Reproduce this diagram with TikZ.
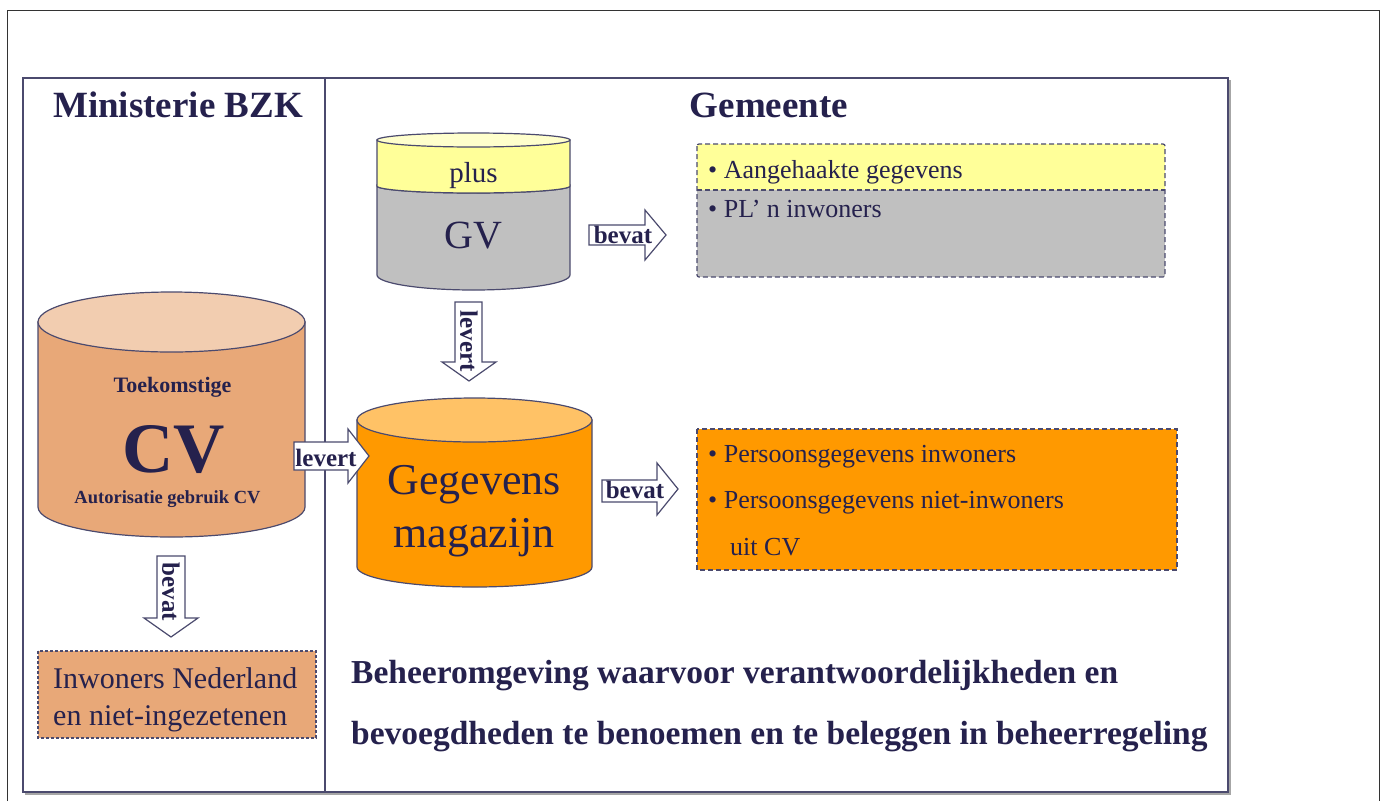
\documentclass[tikz,border=0pt]{standalone}
\usepackage{fontspec}
\setmainfont{Liberation Serif}
\definecolor{ink}{HTML}{25214D}
\definecolor{frame}{HTML}{4B4A6E}
\definecolor{peach}{HTML}{E8A878}
\definecolor{peachtop}{HTML}{F2CDB0}
\definecolor{orng}{HTML}{FF9900}
\definecolor{orngtop}{HTML}{FFC266}
\definecolor{yel}{HTML}{FFFF99}
\definecolor{yeltop}{HTML}{FFFFCC}
\definecolor{gry}{HTML}{C0C0C0}
\begin{document}
\begin{tikzpicture}[x=1pt,y=-1pt,
  txt/.style={inner sep=0pt, text=ink},
  fs/.style={font=\fontsize{#1}{#1}\selectfont},
  fsb/.style={font=\fontsize{#1}{#1}\selectfont\bfseries},
  cyl/.style={draw=frame, line width=1.2pt},
  barrow/.style={draw=frame, fill=white, line width=1.2pt, line join=miter},
  dbox/.style={draw=frame, line width=1.2pt, dash pattern=on 5pt off 3pt},
  fbox/.style={draw=frame, line width=1.1pt, dash pattern=on 3pt off 2pt},
]
\useasboundingbox (0,0) rectangle (1383,801);
\fill[white] (0,0) rectangle (1383,801);
% outer frame
\draw[black!80, line width=1pt] (7,801) -- (7,10) -- (1379,10) -- (1379,801);
% inner frame
\draw[gray!70, line width=2pt] (25,794) -- (1230,794) -- (1230,80);
\draw[frame, line width=1.5pt] (23,78) rectangle (1228,792);
\draw[frame, line width=1.5pt] (325,78) -- (325,792);

% titles
\node[txt, fsb=37, anchor=base] (min) at (178,117) {Ministerie BZK};
\node[txt, fsb=37, anchor=base] (gem) at (769,117) {Gemeente};

% GV cylinder
\path[cyl, fill=gry] (377,186) -- (377,275) arc[start angle=180, end angle=0, x radius=96.5, y radius=15] -- (570,186) arc[start angle=0, end angle=180, x radius=96.5, y radius=7] -- cycle;
\path[cyl, fill=yel] (377,140) -- (377,186) arc[start angle=180, end angle=0, x radius=96.5, y radius=7] -- (570,140) -- cycle;
\path[cyl, fill=yeltop] (473.5,140) ellipse[x radius=96.5, y radius=7];
\node[txt, fs=29, anchor=base] (plus) at (473.5,182) {plus};
\node[txt, fs=40, anchor=base] (gv) at (473.5,248) {GV};

% top bullet box
\path[fill=gry] (697,190) rectangle (1165,277);
\path[fill=yel] (697,144) rectangle (1165,190);
\draw[dbox] (697,190) -- (1165,190);
\draw[dbox, rounded corners=2pt] (697,144) rectangle (1165,277);
\node[txt, fs=26, anchor=base west] (aang) at (708,178) {• Aangehaakte gegevens};
\node[txt, fs=26, anchor=base west] (pln) at (708,217) {• PL’ n inwoners};

% bevat arrow top
\draw[barrow] (589,225) -- (645,225) -- (645,210) -- (666,235) -- (645,260) -- (645,245) -- (589,245) -- cycle;
\node[txt, fsb=25, anchor=base] (bevat1) at (623,243) {bevat};

% levert arrow down
\draw[barrow] (455,302) -- (482,302) -- (482,362) -- (496,362) -- (469,381) -- (442,362) -- (455,362) -- cycle;
\node[txt, fsb=25, rotate=-90] (levert1) at (469,341) {levert};

% CV cylinder
\path[cyl, fill=peach] (38,322) -- (38,507) arc[start angle=180, end angle=0, x radius=133.5, y radius=30] -- (305,322) -- cycle;
\path[cyl, fill=peachtop] (171.5,322) ellipse[x radius=133.5, y radius=30];
\node[txt, fsb=22, anchor=base] (toek) at (172.5,392) {Toekomstige};
\node[txt, fsb=71, anchor=base] (cv) at (173.5,472) {CV};
\node[txt, fsb=18.5, anchor=base] (aut) at (167.5,503) {Autorisatie gebruik CV};

% Gegevens magazijn cylinder
\path[cyl, fill=orng] (357,420) -- (357,567) arc[start angle=180, end angle=0, x radius=117.5, y radius=20] -- (592,420) -- cycle;
\path[cyl, fill=orngtop] (474.5,420) ellipse[x radius=117.5, y radius=22];
\node[txt, fs=44, anchor=base] (geg) at (474,494) {Gegevens};
\node[txt, fs=44, anchor=base] (mag) at (474,547) {magazijn};

% levert arrow right
\draw[barrow] (294,442) -- (348,442) -- (348,429) -- (369,456) -- (348,483) -- (348,470) -- (294,470) -- cycle;
\node[txt, fsb=25, anchor=base] (levert2) at (326,466) {levert};

% bevat arrow lower
\draw[barrow] (602,480) -- (657,480) -- (657,463) -- (678,489) -- (657,515) -- (657,502) -- (602,502) -- cycle;
\node[txt, fsb=25, anchor=base] (bevat2) at (635,498) {bevat};

% lower bullet box
\draw[dbox, fill=orng] (697,429) rectangle (1177,570);
\node[txt, fs=26, anchor=base west] (p1) at (708,462) {• Persoonsgegevens inwoners};
\node[txt, fs=26, anchor=base west] (p2) at (708,508) {• Persoonsgegevens niet-inwoners};
\node[txt, fs=26, anchor=base west] (p3) at (730,555) {uit CV};

% bevat arrow down (left)
\draw[barrow] (157,556) -- (185,556) -- (185,618) -- (198,618) -- (171,637) -- (144,618) -- (157,618) -- cycle;
\node[txt, fsb=25, rotate=-90] (bevat3) at (171,592) {bevat};

% Inwoners box
\draw[fbox, fill=peach] (38,651) rectangle (316,738);
\node[txt, fs=30, anchor=base west] (inw1) at (53,688) {Inwoners Nederland};
\node[txt, fs=30, anchor=base west] (inw2) at (53,725) {en niet-ingezetenen};

% bottom text
\node[txt, fsb=33.5, anchor=base west] (beh1) at (351,683) {Beheeromgeving waarvoor verantwoordelijkheden en};
\node[txt, fsb=33.5, anchor=base west] (beh2) at (351,744) {bevoegdheden te benoemen en te beleggen in beheerregeling};
\end{tikzpicture}
\end{document}
